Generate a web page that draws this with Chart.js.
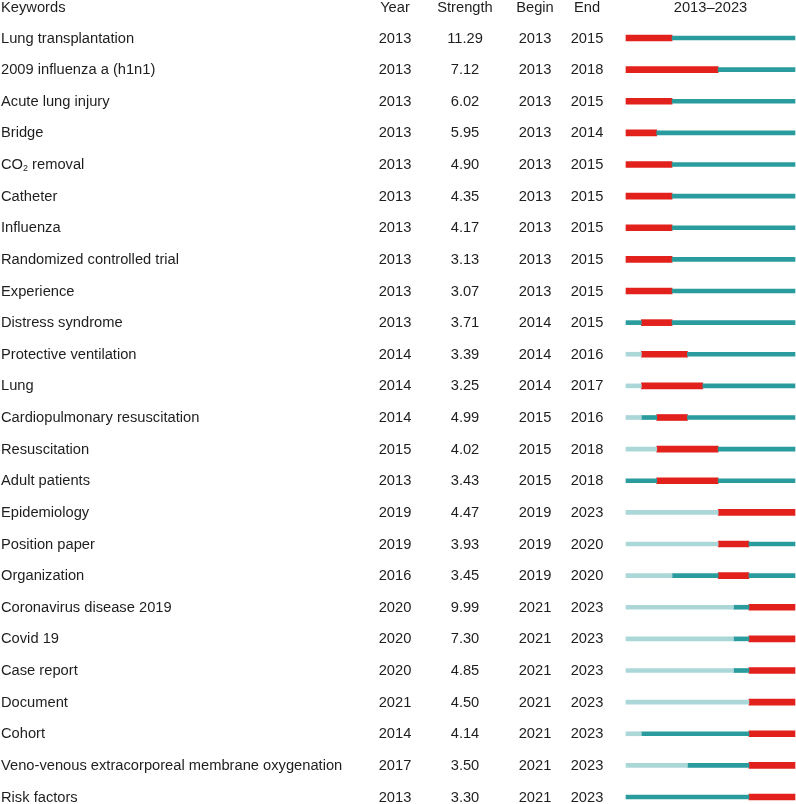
<!DOCTYPE html>
<html>
<head>
<meta charset="utf-8">
<script src="https://cdn.jsdelivr.net/npm/chart.js@4.4.1/dist/chart.umd.min.js"></script>
<style>
  html, body { margin: 0; padding: 0; background: #fff; }
  #wrap { width: 796px; height: 804px; }
</style>
</head>
<body>
<div id="wrap"><canvas id="burst" width="796" height="804"></canvas></div>
<script>
const keywords = [
  "Lung transplantation", "2009 influenza a (h1n1)", "Acute lung injury", "Bridge",
  "CO₂ removal", "Catheter", "Influenza", "Randomized controlled trial", "Experience",
  "Distress syndrome", "Protective ventilation", "Lung", "Cardiopulmonary resuscitation",
  "Resuscitation", "Adult patients", "Epidemiology", "Position paper", "Organization",
  "Coronavirus disease 2019", "Covid 19", "Case report", "Document", "Cohort",
  "Veno-venous extracorporeal membrane oxygenation", "Risk factors"
];
const years = [2013, 2013, 2013, 2013, 2013, 2013, 2013, 2013, 2013, 2013, 2014, 2014, 2014,
  2015, 2013, 2019, 2019, 2016, 2020, 2020, 2020, 2021, 2014, 2017, 2013];
const strengths = ["11.29", "7.12", "6.02", "5.95", "4.90", "4.35", "4.17", "3.13", "3.07",
  "3.71", "3.39", "3.25", "4.99", "4.02", "3.43", "4.47", "3.93", "3.45", "9.99", "7.30",
  "4.85", "4.50", "4.14", "3.50", "3.30"];
const begins = [2013, 2013, 2013, 2013, 2013, 2013, 2013, 2013, 2013, 2014, 2014, 2014, 2015,
  2015, 2015, 2019, 2019, 2019, 2021, 2021, 2021, 2021, 2021, 2021, 2021];
const ends = [2015, 2018, 2015, 2014, 2015, 2015, 2015, 2015, 2015, 2015, 2016, 2017, 2016,
  2018, 2018, 2023, 2020, 2020, 2023, 2023, 2023, 2023, 2023, 2023, 2023];
const firstYear = 2013;
const lastYear = 2023;

const RED = "#e3211c";
const TEAL = "#2a9c9e";
const LIGHT = "#acd7d9";
const TEXT = "#1e1e1e";

// segments: not yet published / present but no burst / burst / after burst
const lightSeg = keywords.map((k, i) => years[i] > firstYear ? [firstYear, years[i]] : null);
const tealBefore = keywords.map((k, i) => begins[i] > years[i] ? [years[i], begins[i]] : null);
const redSeg = keywords.map((k, i) => [begins[i], ends[i] + 1]);
const tealAfter = keywords.map((k, i) => ends[i] < lastYear ? [ends[i] + 1, lastYear + 1] : null);

const FONT = "14.7px 'Liberation Sans', Arial, sans-serif";
const cols = [
  { title: "Year", x: 395, vals: years },
  { title: "Strength", x: 465, vals: strengths },
  { title: "Begin", x: 535, vals: begins },
  { title: "End", x: 587, vals: ends }
];

function drawKeyword(ctx, text, x, y) {
  const parts = text.split("₂");
  if (parts.length === 1) { ctx.fillText(text, x, y); return; }
  ctx.fillText(parts[0], x, y);
  let w = ctx.measureText(parts[0]).width;
  ctx.font = "9px 'Liberation Sans', Arial, sans-serif";
  ctx.fillText("2", x + w, y + 4);
  w += ctx.measureText("2").width;
  ctx.font = FONT;
  ctx.fillText(parts[1], x + w, y);
}

const tablePlugin = {
  id: "tableText",
  afterDraw(chart) {
    const ctx = chart.ctx;
    const yScale = chart.scales.y;
    const area = chart.chartArea;
    ctx.save();
    ctx.fillStyle = TEXT;
    ctx.font = FONT;
    ctx.textBaseline = "middle";
    const headY = 8;
    ctx.textAlign = "left";
    ctx.fillText("Keywords", 1, headY);
    ctx.textAlign = "center";
    cols.forEach(c => ctx.fillText(c.title, c.x, headY));
    ctx.fillText(firstYear + "–" + lastYear, (area.left + area.right) / 2, headY);
    keywords.forEach((k, i) => {
      const y = yScale.getPixelForValue(i) + 0.5;
      ctx.textAlign = "left";
      drawKeyword(ctx, k, 1, y);
      ctx.textAlign = "center";
      cols.forEach(c => ctx.fillText(String(c.vals[i]), c.x, y));
    });
    ctx.restore();
  }
};

function seg(data, color, thick) {
  return {
    data: data,
    backgroundColor: color,
    borderWidth: 0,
    borderSkipped: false,
    barThickness: thick,
    grouped: false,
    clip: false
  };
}

new Chart(document.getElementById("burst"), {
  type: "bar",
  data: {
    labels: keywords,
    datasets: [
      seg(lightSeg, LIGHT, 4),
      seg(tealBefore, TEAL, 4),
      seg(tealAfter, TEAL, 4),
      seg(redSeg, RED, 6)
    ]
  },
  options: {
    indexAxis: "y",
    responsive: false,
    animation: false,
    layout: { padding: { left: 626, right: 1, top: 38, bottom: 7 } },
    plugins: { legend: { display: false }, tooltip: { enabled: false } },
    scales: {
      x: { type: "linear", min: firstYear, max: lastYear + 1, display: false },
      y: { type: "category", offset: false, display: false }
    }
  },
  plugins: [tablePlugin]
});
</script>
</body>
</html>
